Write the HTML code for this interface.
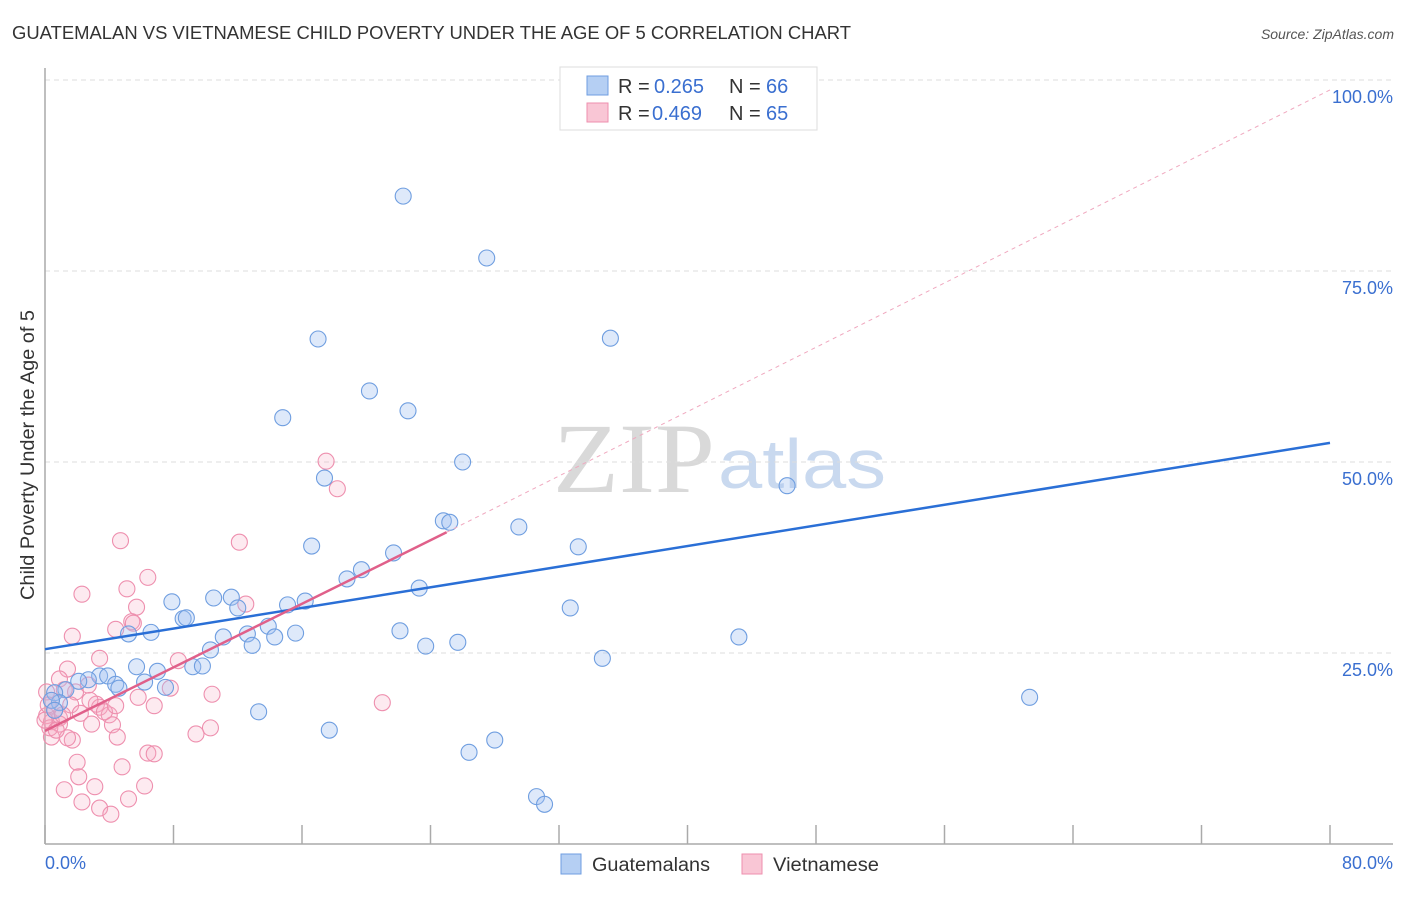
<!DOCTYPE html>
<html><head><meta charset="utf-8"><style>
body{margin:0;background:#fff;font-family:"Liberation Sans",sans-serif;}
svg text{font-family:"Liberation Sans",sans-serif;}
</style></head><body>
<svg width="1406" height="892" viewBox="0 0 1406 892">
<text x="12" y="39" font-size="18" fill="#333" textLength="839" lengthAdjust="spacingAndGlyphs">GUATEMALAN VS VIETNAMESE CHILD POVERTY UNDER THE AGE OF 5 CORRELATION CHART</text>
<text x="1394" y="39" font-size="14" fill="#555" text-anchor="end" font-style="italic">Source: ZipAtlas.com</text>
<g>
<text x="553" y="492" font-size="100" fill="#d9d9d9" textLength="162" lengthAdjust="spacingAndGlyphs" style="font-family:'Liberation Serif',serif">ZIP</text>
<text x="718" y="488" font-size="70" fill="#c9d9ef" textLength="168" lengthAdjust="spacingAndGlyphs">atlas</text>
</g>
<g id="grid"></g>
<g id="axes"></g>
<g id="pts"></g>
<g id="lines"></g>
<text x="34" y="455" font-size="19" fill="#333" text-anchor="middle" transform="rotate(-90 34 455)" textLength="290" lengthAdjust="spacingAndGlyphs">Child Poverty Under the Age of 5</text>
<text x="45" y="869" font-size="18" fill="#3a6fd0">0.0%</text>
<text x="1393" y="869" font-size="18" fill="#3a6fd0" text-anchor="end">80.0%</text>
<g>
<rect x="560" y="67" width="257" height="63" fill="#fff" stroke="#ddd"/>
<rect x="587" y="76" width="21" height="19" fill="#b5cff3" stroke="#6f9ee0"/>
<rect x="587" y="103" width="21" height="19" fill="#f9c6d5" stroke="#ee8fae"/>
<text x="618" y="93" font-size="20" fill="#333">R =</text><text x="654" y="93" font-size="20" fill="#3a6fd0">0.265</text>
<text x="729" y="93" font-size="20" fill="#333">N =</text><text x="766" y="93" font-size="20" fill="#3a6fd0">66</text>
<text x="618" y="120" font-size="20" fill="#333">R =</text><text x="652" y="120" font-size="20" fill="#3a6fd0">0.469</text>
<text x="729" y="120" font-size="20" fill="#333">N =</text><text x="766" y="120" font-size="20" fill="#3a6fd0">65</text>
</g>
<g>
<rect x="561" y="854" width="20" height="20" fill="#b5cff3" stroke="#6f9ee0"/>
<text x="592" y="871" font-size="19" fill="#333" textLength="118" lengthAdjust="spacingAndGlyphs">Guatemalans</text>
<rect x="742" y="854" width="20" height="20" fill="#f9c6d5" stroke="#ee8fae"/>
<text x="773" y="871" font-size="19" fill="#333" textLength="106" lengthAdjust="spacingAndGlyphs">Vietnamese</text>
</g>
</svg>
<script>
const yTicks=[25,50,75,100];
const yTickLabels=["25.0%","50.0%","75.0%","100.0%"];
const xTickVals=[0,8,16,24,32,40,48,56,64,72,80];
const blueX=[22.3,27.5,17.0,35.2,20.2,22.6,14.8,26.0,17.4,46.2,24.8,25.2,29.5,16.6,33.2,21.7,19.7,18.8,23.3,7.9,10.5,11.6,12.0,15.1,16.2,32.7,8.6,8.8,6.6,5.2,15.6,13.9,12.6,11.1,14.3,12.9,22.1,23.7,25.7,43.2,10.3,34.7,5.7,9.2,9.8,7.0,3.4,3.9,2.7,2.1,4.4,6.2,7.5,4.6,1.3,0.6,0.9,0.4,61.3,13.3,17.7,28.0,26.4,30.6,31.1,0.6];
const blueY=[84.8,76.7,66.1,66.2,59.3,56.7,55.8,50.0,47.9,46.9,42.3,42.1,41.5,39.0,38.9,38.1,35.9,34.7,33.5,31.7,32.2,32.3,30.9,31.3,31.8,30.9,29.5,29.6,27.7,27.5,27.6,28.5,27.5,27.1,27.1,26.0,27.9,25.9,26.4,27.1,25.4,24.3,23.2,23.2,23.3,22.6,22.0,22.0,21.5,21.3,20.9,21.2,20.5,20.4,20.2,19.8,18.5,18.8,19.2,17.3,14.9,13.6,12.0,6.2,5.2,17.5];
const pinkX=[4.7,12.1,17.5,18.2,6.4,2.3,5.1,5.7,12.5,5.4,1.7,4.4,5.5,3.4,8.3,1.4,0.9,1.9,2.7,1.2,10.4,5.8,0.1,0.4,3.2,1.6,3.4,6.8,21.0,4.0,2.2,0.9,0.1,0.4,2.9,0.9,4.2,10.3,4.5,0.4,1.7,1.4,9.4,0.3,6.4,6.8,2.0,4.8,2.1,3.1,1.2,6.2,2.3,5.2,3.4,4.1,0.0,0.6,0.2,1.1,7.8,3.7,0.7,4.4,2.8];
const pinkY=[39.7,39.5,50.1,46.5,34.9,32.7,33.4,31.0,31.4,29.1,27.2,28.1,28.9,24.3,24.0,22.9,21.6,19.9,20.8,20.2,19.6,19.2,19.9,18.8,18.3,18.2,17.9,18.1,18.5,16.9,17.1,16.5,16.8,16.0,15.7,15.7,15.6,15.2,14.0,14.0,13.6,13.9,14.4,15.2,11.9,11.8,10.7,10.1,8.8,7.5,7.1,7.6,5.5,5.9,4.7,3.9,16.2,17.5,18.2,16.9,20.4,17.3,14.9,18.1,18.8];
const blueLine=[[0,25.5],[80,52.5]];
const pinkLine=[[0,14.8],[25,40.8]];
const pinkDash=[[25,40.8],[80,98.7]];
const X0=45,X1=1330,Y0=844,Y100=80;
const sx=v=>X0+(X1-X0)*v/80;
const sy=v=>Y0-(Y0-Y100)*v/100;
const NS="http://www.w3.org/2000/svg";
function mk(t,a,p){const e=document.createElementNS(NS,t);for(const k in a)e.setAttribute(k,a[k]);p.appendChild(e);return e;}
const grid=document.getElementById('grid');
yTicks.forEach((v,i)=>{
 const l=mk('line',{x1:X0,x2:1393,y1:sy(v),y2:sy(v),stroke:'#ddd','stroke-dasharray':'5,4'},grid);
 
 
 const t=mk('text',{x:1393,y:sy(v)+23,'font-size':18,fill:'#3a6fd0','text-anchor':'end'},grid);
 t.textContent=yTickLabels[i];
 
 
});
const ax=document.getElementById('axes');
const a1=mk('line',{x1:X0,x2:X0,y1:68,y2:Y0,stroke:'#aaa','stroke-width':1.5},ax);


const a2=mk('line',{x1:X0,x2:1393,y1:Y0,y2:Y0,stroke:'#aaa','stroke-width':1.5},ax);


xTickVals.forEach(v=>{
 const t=mk('line',{x1:sx(v),x2:sx(v),y1:Y0-19,y2:Y0,stroke:'#aaa','stroke-width':1.5},ax);
 
 
});
const pts=document.getElementById('pts');
pinkX.forEach((x,i)=>{
 const c=mk('circle',{cx:sx(x),cy:sy(pinkY[i]),r:8,fill:'rgba(246,170,195,0.25)',stroke:'#ee8fae','stroke-width':1.1},pts);
 
 
});
blueX.forEach((x,i)=>{
 const c=mk('circle',{cx:sx(x),cy:sy(blueY[i]),r:8,fill:'rgba(160,192,240,0.35)',stroke:'#6f9ee0','stroke-width':1.1},pts);
 
 
});
const ln=document.getElementById('lines');
const d=mk('line',{x1:sx(pinkDash[0][0]),y1:sy(pinkDash[0][1]),x2:sx(pinkDash[1][0]),y2:sy(pinkDash[1][1]),stroke:'#f0a8bf','stroke-dasharray':'4,4','stroke-width':1},ln);


const b=mk('line',{x1:sx(blueLine[0][0]),y1:sy(blueLine[0][1]),x2:sx(blueLine[1][0]),y2:sy(blueLine[1][1]),stroke:'#2a6fd6','stroke-width':2.5},ln);


const p=mk('line',{x1:sx(pinkLine[0][0]),y1:sy(pinkLine[0][1]),x2:sx(pinkLine[1][0]),y2:sy(pinkLine[1][1]),stroke:'#e0608a','stroke-width':2.5},ln);


</script>
</body></html>
